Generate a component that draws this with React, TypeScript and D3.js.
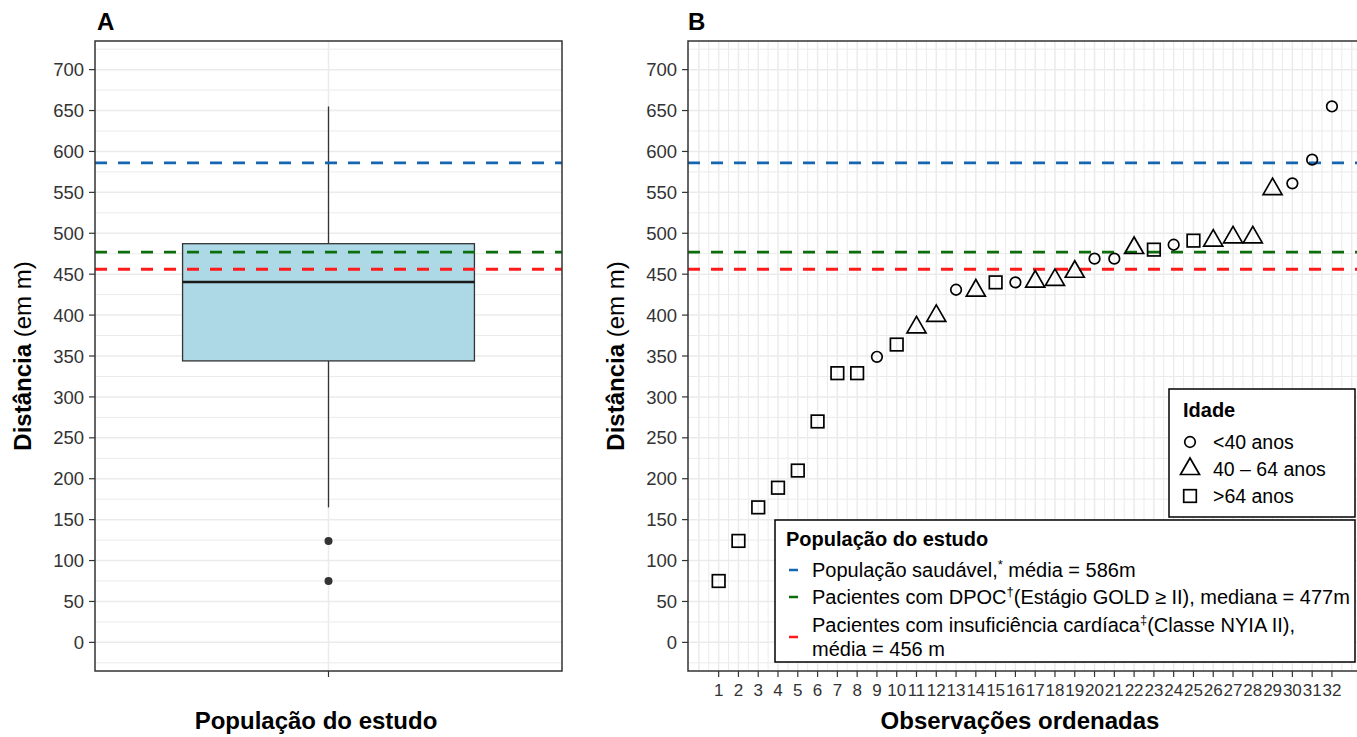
import React from "react";
import * as d3 from "d3";

// observations, already in the order shown on panel B
const distances = [75, 124, 165, 189, 210, 270, 329, 329, 349, 364, 385, 399, 431, 430, 440, 440, 441, 443, 453, 469, 469, 482, 480, 486, 491, 491, 495, 495, 554, 561, 590, 655];
const ageGroups = ["old", "old", "old", "old", "old", "old", "old", "old", "young", "old", "mid", "mid", "young", "mid", "old", "young", "mid", "mid", "mid", "young", "young", "mid", "old", "young", "old", "mid", "mid", "mid", "mid", "young", "young", "young"];
const obsTicks = [1, 2, 3, 4, 5, 6, 7, 8, 9, 10, 11, 12, 13, 14, 15, 16, 17, 18, 19, 20, 21, 22, 23, 24, 25, 26, 27, 28, 29, 30, 31, 32];

const refValues = [586, 477, 456];
const refColors = ["#1565b0", "#0b6e0b", "#ff1a1a"];

const ageKeys = ["young", "mid", "old"];
const ageLabels = ["<40 anos", "40 – 64 anos", ">64 anos"];

const W = 1357, H = 737;
const top = 41, bottom = 671;
const font = "'Liberation Sans', Arial, sans-serif";
const grid = "#ebebeb";
const ink = "#333";

const y = d3.scaleLinear().domain([-35, 735]).range([bottom, top]);
const yMajor = d3.range(0, 701, 50);
const yMinor = d3.range(-25, 726, 50);

function Shape({ kind, x, y: cy }) {
  if (kind === "young") return <circle cx={x} cy={cy} r={5.3} fill="none" stroke="#000" strokeWidth={1.7} />;
  if (kind === "mid") {
    const p = d3.path();
    p.moveTo(x, cy - 11);
    p.lineTo(x + 9.5, cy + 5.5);
    p.lineTo(x - 9.5, cy + 5.5);
    p.closePath();
    return <path d={p.toString()} fill="none" stroke="#000" strokeWidth={1.7} />;
  }
  return <rect x={x - 6.3} y={cy - 6.3} width={12.6} height={12.6} fill="none" stroke="#000" strokeWidth={1.7} />;
}

function YAxis({ left, titleX }) {
  return (
    <g>
      {yMajor.map(v => (
        <g key={v}>
          <line x1={left - 6} x2={left} y1={y(v)} y2={y(v)} stroke={ink} strokeWidth={1.2} />
          <text x={left - 11} y={y(v)} dy="0.36em" textAnchor="end" fontSize={18.5} fill={ink}>{v}</text>
        </g>
      ))}
      <text transform={`translate(${titleX},${(top + bottom) / 2}) rotate(-90)`} textAnchor="middle" fontSize={24} fill="#000">
        <tspan fontWeight="bold">Distância</tspan>
        <tspan> (em m)</tspan>
      </text>
    </g>
  );
}

function RefLines({ x0, x1 }) {
  return (
    <g>
      {refValues.map((v, i) => (
        <line key={i} x1={x0} x2={x1} y1={y(v)} y2={y(v)} stroke={refColors[i]} strokeWidth={2.8} strokeDasharray="12 11" />
      ))}
    </g>
  );
}

function PanelA() {
  const left = 95, right = 562;
  const xb = d3.scaleBand().domain(["pop"]).range([left, right]).paddingInner(0).paddingOuter(0.3);
  const sorted = distances.slice().sort(d3.ascending);
  const q1 = d3.quantileSorted(sorted, 0.25);
  const med = d3.quantileSorted(sorted, 0.5);
  const q3 = d3.quantileSorted(sorted, 0.75);
  const iqr = q3 - q1;
  const inside = sorted.filter(v => v >= q1 - 1.5 * iqr && v <= q3 + 1.5 * iqr);
  const lo = d3.min(inside), hi = d3.max(inside);
  const outliers = sorted.filter(v => v < lo || v > hi);
  const bx = xb("pop"), bw = xb.bandwidth(), cx = bx + bw / 2;

  return (
    <g>
      {yMinor.map(v => <line key={"m" + v} x1={left} x2={right} y1={y(v)} y2={y(v)} stroke={grid} strokeWidth={1} />)}
      {yMajor.map(v => <line key={"M" + v} x1={left} x2={right} y1={y(v)} y2={y(v)} stroke={grid} strokeWidth={1.5} />)}
      <line x1={cx} x2={cx} y1={top} y2={bottom} stroke={grid} strokeWidth={1.5} />

      <line x1={cx} x2={cx} y1={y(hi)} y2={y(q3)} stroke={ink} strokeWidth={1.3} />
      <line x1={cx} x2={cx} y1={y(q1)} y2={y(lo)} stroke={ink} strokeWidth={1.3} />
      <rect x={bx} y={y(q3)} width={bw} height={y(q1) - y(q3)} fill="#add8e6" stroke={ink} strokeWidth={1.3} />
      <line x1={bx} x2={bx + bw} y1={y(med)} y2={y(med)} stroke="#1a1a1a" strokeWidth={2.4} />
      {outliers.map((v, i) => <circle key={i} cx={cx} cy={y(v)} r={4} fill={ink} />)}

      <RefLines x0={left} x1={right} />
      <rect x={left} y={top} width={right - left} height={bottom - top} fill="none" stroke={ink} strokeWidth={1.5} />

      <line x1={cx} x2={cx} y1={bottom} y2={bottom + 6} stroke={ink} strokeWidth={1.2} />
      <YAxis left={left} titleX={31} />
      <text x={97} y={30} fontSize={24} fontWeight="bold">A</text>
      <text x={316} y={729} textAnchor="middle" fontSize={24} fontWeight="bold">População do estudo</text>
    </g>
  );
}

function PanelB() {
  const left = 688;
  const x = d3.scaleLinear().domain([-0.55, 33.55]).range([left, 1362.6]);
  const right = x.range()[1];
  const vGrid = d3.range(0, 33.01, 0.5);

  return (
    <g>
      {yMinor.map(v => <line key={"m" + v} x1={left} x2={right} y1={y(v)} y2={y(v)} stroke={grid} strokeWidth={1} />)}
      {yMajor.map(v => <line key={"M" + v} x1={left} x2={right} y1={y(v)} y2={y(v)} stroke={grid} strokeWidth={1.5} />)}
      {vGrid.map(v => <line key={"v" + v} x1={x(v)} x2={x(v)} y1={top} y2={bottom} stroke={grid} strokeWidth={Number.isInteger(v) ? 1.5 : 1} />)}

      <RefLines x0={left} x1={right} />
      {distances.map((d, i) => <Shape key={i} kind={ageGroups[i]} x={x(obsTicks[i])} y={y(d)} />)}

      <rect x={left} y={top} width={right - left} height={bottom - top} fill="none" stroke={ink} strokeWidth={1.5} />
      {obsTicks.map(t => (
        <g key={t}>
          <line x1={x(t)} x2={x(t)} y1={bottom} y2={bottom + 6} stroke={ink} strokeWidth={1.2} />
          <text x={x(t)} y={696} textAnchor="middle" fontSize={17} fill={ink}>{t}</text>
        </g>
      ))}
      <YAxis left={left} titleX={624} />
      <text x={688} y={30} fontSize={24} fontWeight="bold">B</text>
      <text x={1020} y={729} textAnchor="middle" fontSize={24} fontWeight="bold">Observações ordenadas</text>

      {/* Idade legend */}
      <rect x={1169} y={389} width={186} height={128} fill="#fff" stroke="#000" strokeWidth={1.5} />
      <text x={1183} y={417} fontSize={20} fontWeight="bold">Idade</text>
      {ageKeys.map((k, i) => (
        <g key={k}>
          <Shape kind={k} x={1190} y={442 + i * 27} />
          <text x={1213} y={442 + i * 27} dy="0.36em" fontSize={19.5}>{ageLabels[i]}</text>
        </g>
      ))}

      {/* reference population legend */}
      <rect x={775} y={520} width={580} height={142} fill="#fff" stroke="#000" strokeWidth={1.5} />
      <text x={786} y={546} fontSize={20} fontWeight="bold">População do estudo</text>
      <line x1={789} x2={798} y1={570} y2={570} stroke={refColors[0]} strokeWidth={2.5} />
      <line x1={789} x2={798} y1={597} y2={597} stroke={refColors[1]} strokeWidth={2.5} />
      <line x1={789} x2={798} y1={637} y2={637} stroke={refColors[2]} strokeWidth={2.5} />
      <text x={812} y={577} fontSize={20}>
        População saudável,<tspan dy={-8} fontSize={13}>*</tspan><tspan dy={8}> média = 586m</tspan>
      </text>
      <text x={812} y={604} fontSize={20}>
        Pacientes com DPOC<tspan dy={-8} fontSize={13}>†</tspan><tspan dy={8}>(Estágio GOLD ≥ II), mediana = 477m</tspan>
      </text>
      <text x={812} y={632} fontSize={20}>
        Pacientes com insuficiência cardíaca<tspan dy={-8} fontSize={13}>‡</tspan><tspan dy={8}>(Classe NYIA II),</tspan>
      </text>
      <text x={812} y={656} fontSize={20}>média = 456 m</text>
    </g>
  );
}

export default function App() {
  return (
    <svg width={W} height={H} style={{ position: "absolute", left: 0, top: 0, background: "#fff" }} fontFamily={font}>
      <rect width={W} height={H} fill="#fff" />
      <PanelA />
      <PanelB />
    </svg>
  );
}
